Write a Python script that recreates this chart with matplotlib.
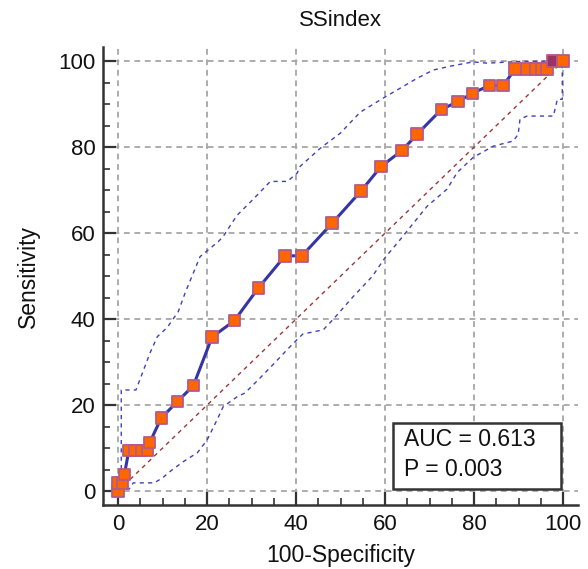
import matplotlib
matplotlib.use("Agg")
import matplotlib.pyplot as plt
from matplotlib.patches import Rectangle
from matplotlib.ticker import MultipleLocator

plt.rcParams['font.family'] = ['Liberation Sans', 'DejaVu Sans']

title = "SSindex"
xlabel = "100-Specificity"
ylabel = "Sensitivity"
auc_text = "AUC = 0.613"
p_text = "P = 0.003"

# ROC points (100-Specificity, Sensitivity)
fpr = [0, 0, 1.0, 1.4, 2.4, 3.8, 5.2, 6.6, 7.1, 9.7, 13.3, 16.9, 21.1, 26.1,
       31.5, 37.5, 41.3, 48.1, 54.6, 59.1, 63.8, 67.2, 72.6, 76.4, 79.6,
       83.4, 86.5, 89.2, 91.7, 93.9, 95.2, 96.4, 97.6, 100]
tpr = [0, 1.9, 1.9, 3.8, 9.4, 9.4, 9.4, 9.4, 11.3, 17.0, 20.8, 24.5, 35.8,
       39.6, 47.2, 54.7, 54.7, 62.3, 69.8, 75.5, 79.2, 83.0, 88.7, 90.6,
       92.5, 94.3, 94.3, 98.1, 98.1, 98.1, 98.1, 98.1, 100, 100]
highlight_index = 32

# 95% confidence bounds
upper_x = [0, 0.7, 0.7, 4.0, 7.2, 8.8, 11.0, 13.5, 15.1, 18.4, 19.8, 22.5,
           23.6, 26.7, 30.1, 34.2, 38.0, 40.2, 40.9, 45.4, 49.9, 54.4, 59.6,
           63.4, 67.2, 70.8, 74.6, 79.8, 82.9, 90.3, 98.6, 100]
upper_y = [0, 0, 23.5, 23.5, 32.2, 35.9, 38.0, 41.7, 46.2, 54.5, 55.7, 58.0,
           59.2, 64.1, 67.6, 72.0, 72.0, 73.9, 75.5, 79.7, 83.2, 88.1, 91.4,
           93.7, 96.0, 97.9, 98.8, 99.8, 99.5, 99.9, 100, 100]
lower_x = [0, 2.5, 3.4, 8.1, 9.9, 12.1, 14.6, 17.8, 20.0, 22.2, 23.6, 26.7,
           28.5, 31.9, 34.8, 38.0, 40.2, 41.5, 46.1, 48.3, 52.8, 57.1, 60.0,
           63.4, 69.4, 73.9, 76.2, 79.8, 84.3, 88.8, 89.9, 90.3, 91.9, 97.8,
           98.7, 99.8, 99.8, 100]
lower_y = [0, 0.5, 1.9, 1.9, 3.0, 4.9, 6.8, 8.9, 11.9, 16.5, 19.6, 21.9,
           22.8, 26.3, 29.4, 32.9, 35.2, 36.5, 37.5, 39.9, 45.2, 49.9, 54.3,
           58.5, 66.2, 70.2, 74.1, 77.6, 80.2, 81.4, 83.0, 86.5, 87.2, 87.2,
           91.1, 91.1, 99.8, 100]

diag = [0, 100]

fig = plt.figure(figsize=(5.88, 5.69), dpi=100)
ax = fig.add_axes([0.1752, 0.1121, 0.8083, 0.8056])
ax.set_xlim(-3.4, 103.4)
ax.set_ylim(-3.3, 103.3)

# grid
ax.xaxis.set_major_locator(MultipleLocator(20))
ax.yaxis.set_major_locator(MultipleLocator(20))
ax.xaxis.set_minor_locator(MultipleLocator(5))
ax.yaxis.set_minor_locator(MultipleLocator(5))
ax.grid(True, which='major', color='#a6a6a6', linestyle=(0, (3.2, 2.6)),
        linewidth=1.3, zorder=0)
ax.set_axisbelow(True)

for s in ['top', 'right']:
    ax.spines[s].set_visible(False)
for s in ['left', 'bottom']:
    ax.spines[s].set_color('#333333')
    ax.spines[s].set_linewidth(1.8)

ax.tick_params(which='major', direction='in', length=9.5, width=1.6,
               color='#333333', labelsize=16, labelcolor='#111111')
ax.tick_params(axis='y', which='major', pad=5.5)
ax.tick_params(axis='x', which='major', pad=6)
ax.tick_params(which='minor', direction='in', length=5, width=1.2,
               color='#333333')

# diagonal
ax.plot(diag, diag, color='#a03535', linestyle=(0, (3, 3)), linewidth=1.0,
        zorder=2)
# confidence bounds
ax.plot(upper_x, upper_y, color='#4040bb', linestyle=(0, (3, 3)),
        linewidth=1.0, zorder=2)
ax.plot(lower_x, lower_y, color='#4040bb', linestyle=(0, (3, 3)),
        linewidth=1.0, zorder=2)

# ROC curve
ax.plot(fpr, tpr, color='#3535a5', linewidth=2.2, zorder=3,
        solid_joinstyle='round')
faces = ['#ff6600'] * len(fpr)
faces[highlight_index] = '#993366'
ax.scatter(fpr, tpr, marker='s', s=68, c=faces, edgecolors='#b45a8a',
           linewidths=1.3, zorder=4)

# AUC box
ax.add_patch(Rectangle((61.8, 0.5), 37.8, 15.3, facecolor='white',
                       edgecolor='#333333', linewidth=1.8, zorder=5))
ax.text(64.3, 11.9, auc_text, fontsize=16.5, color='#111111',
        va='center', ha='left', zorder=6)
ax.text(64.3, 4.9, p_text, fontsize=16.5, color='#111111',
        va='center', ha='left', zorder=6)

ax.set_title(title, fontsize=16, color='#111111', pad=15)
ax.set_xlabel(xlabel, fontsize=16.5, color='#111111', labelpad=7)
ax.set_ylabel(ylabel, fontsize=16.5, color='#111111', labelpad=13)

fig.savefig('out.png', dpi=100)
